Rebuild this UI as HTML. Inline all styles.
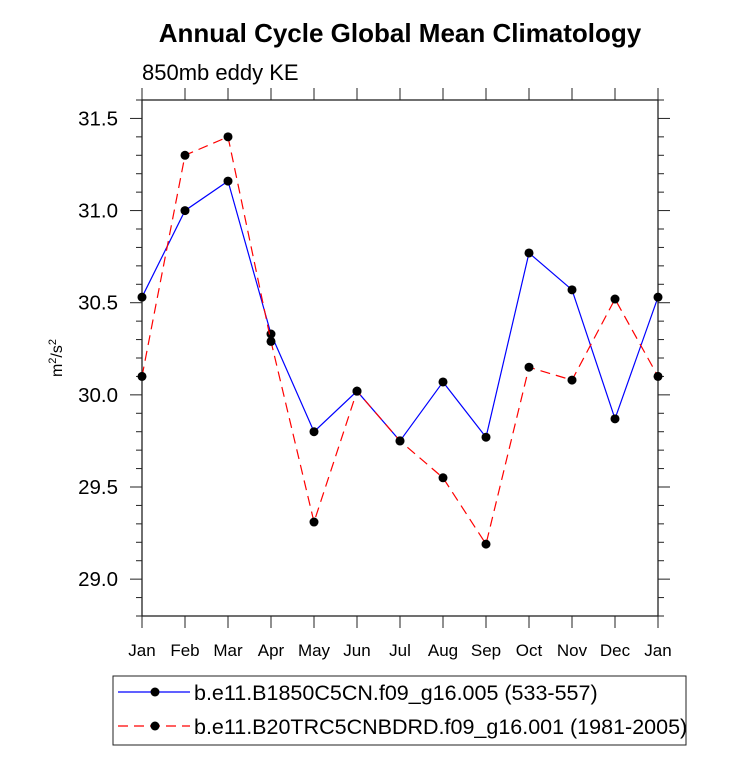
<!DOCTYPE html>
<html><head><meta charset="utf-8"><style>
body{margin:0;background:#fff;}
svg{display:block;font-family:"Liberation Sans",sans-serif;}
</style></head><body>
<svg id="c" width="733" height="766">
<text x="400" y="42" text-anchor="middle" font-size="26" font-weight="bold">Annual Cycle Global Mean Climatology</text>
<text x="142" y="80" font-size="22">850mb eddy KE</text>
<text transform="translate(62,358) rotate(-90)" text-anchor="middle" font-size="16">m<tspan dy="-6" font-size="11">2</tspan><tspan dy="6">/s</tspan><tspan dy="-6" font-size="11">2</tspan></text>
<rect x="142" y="100" width="516" height="516" fill="none" stroke="#222" stroke-width="1.3"/>
<g id="axes"></g><g id="series"></g>
<g>
<rect x="113" y="676" width="573" height="69" fill="none" stroke="#222" stroke-width="1"/>
<line x1="118" y1="692" x2="190" y2="692" stroke="#0000ff" stroke-width="1.2"/>
<circle cx="155" cy="692" r="4.5" fill="#000"/>
<text x="194" y="700" font-size="21.5">b.e11.B1850C5CN.f09_g16.005 (533-557)</text>
<line x1="118" y1="726" x2="190" y2="726" stroke="#ff0000" stroke-width="1.2" stroke-dasharray="10,6"/>
<circle cx="155" cy="726" r="4.5" fill="#000"/>
<text x="194" y="734" font-size="21.5">b.e11.B20TRC5CNBDRD.f09_g16.001 (1981-2005)</text>
</g>
</svg>
<script>
const months=["Jan","Feb","Mar","Apr","May","Jun","Jul","Aug","Sep","Oct","Nov","Dec","Jan"];
const blueVals=[30.53,31.0,31.16,30.33,29.80,30.02,29.75,30.07,29.77,30.77,30.57,29.87,30.53];
const redVals=[30.10,31.30,31.40,30.29,29.31,30.02,29.75,29.55,29.19,30.15,30.08,30.52,30.10];
const yTicks=["29.0","29.5","30.0","30.5","31.0","31.5"];
const NS="http://www.w3.org/2000/svg";
const x0=142,x1=658,yTop=100,yBot=616,yMin=28.8,yMax=31.6;
const xs=i=>x0+i*(x1-x0)/(months.length-1);
const ys=v=>yBot-(v-yMin)/(yMax-yMin)*(yBot-yTop);
function mk(t,a,p){const e=document.createElementNS(NS,t);for(const k in a)e.setAttribute(k,a[k]);p.appendChild(e);return e;}
const ax=document.getElementById('axes');
for(let v=28.8;v<=31.6001;v+=0.1){
 const maj=Math.abs(v*2-Math.round(v*2))<1e-6;const L=maj?12:6;const y=ys(v);
 let t=mk('line',{x1:x0-L,x2:x0,y1:y,y2:y,stroke:'#222'},ax);
 
 
 t=mk('line',{x1:x1,x2:x1+L,y1:y,y2:y,stroke:'#222'},ax);
 
 
}
yTicks.forEach(s=>{const t=mk('text',{x:118,y:ys(+s)+7,'text-anchor':'end','font-size':20.5},ax);t.textContent=s;
 
 });
months.forEach((m,i)=>{const x=xs(i);
 let t=mk('line',{x1:x,x2:x,y1:yBot,y2:yBot+12,stroke:'#222'},ax);
 
 
 t=mk('line',{x1:x,x2:x,y1:yTop-12,y2:yTop,stroke:'#222'},ax);
 
 
 t=mk('text',{x:x,y:656,'text-anchor':'middle','font-size':17},ax);t.textContent=m;
 
 });
const sg=document.getElementById('series');
function draw(vals,col,dash,name){
 const pts=vals.map((v,i)=>xs(i)+','+ys(v)).join(' ');
 const l=mk('polyline',{points:pts,fill:'none',stroke:col,'stroke-width':1.2,'stroke-dasharray':dash},sg);
 
 
 vals.forEach((v,i)=>{const c=mk('circle',{cx:xs(i),cy:ys(v),r:4.5,fill:'#000'},sg);
 
 });
}
draw(blueVals,'#0000ff','none','blue-series');
draw(redVals,'#ff0000','10,6','red-series');
</script>
</body></html>
